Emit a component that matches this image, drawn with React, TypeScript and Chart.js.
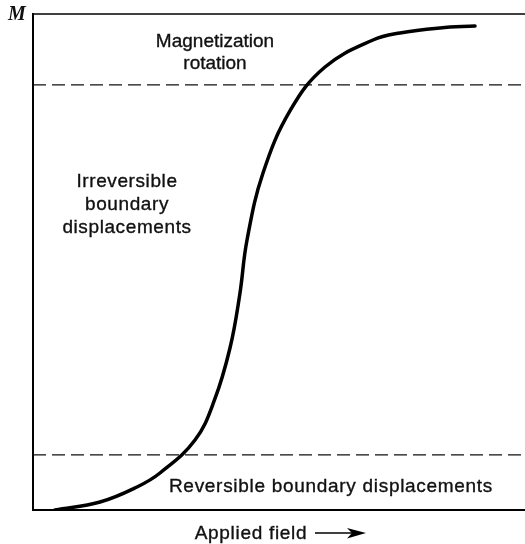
import React, { useEffect, useRef } from "react";
import { Chart, registerables } from "chart.js";

Chart.register(...registerables);

// Applied field (arbitrary units, 0..100) and magnetization M (0..100)
const appliedField = [4.47, 13.62, 21.14, 25.81, 32.93, 36.89, 40.04, 42.01, 43.5, 46.75, 52.34, 59.35, 69.11, 74.59, 82.72, 89.84];
const magnetization = [0, 1.61, 4.64, 7.46, 14.11, 22.18, 32.66, 43.35, 54.44, 67.94, 80.65, 89.31, 94.76, 96.17, 97.18, 97.58];
// Region boundaries (dashed lines), in M units
const regionBoundaries = [11.1, 85.7];
const fieldRange = [0, 100];
const mRange = [0, 100];

const topRegionLabel = ["Magnetization", "rotation"];
const middleRegionLabel = ["Irreversible", "boundary", "displacements"];
const bottomRegionLabel = ["Reversible boundary displacements"];
const xAxisLabel = "Applied field";
const yAxisLabel = "M";

const FONT = '"Liberation Sans", Arial, sans-serif';

const annotations = {
  id: "annotations",
  afterDraw(chart: any) {
    const { ctx, chartArea: a } = chart;
    ctx.save();
    ctx.strokeStyle = "#000";
    ctx.fillStyle = "#111";
    // frame: left, bottom (thick), top (thinner)
    ctx.lineWidth = 2;
    ctx.beginPath();
    ctx.moveTo(a.left, a.top - 1);
    ctx.lineTo(a.left, a.bottom + 1);
    ctx.stroke();
    ctx.beginPath();
    ctx.moveTo(a.left - 1, a.bottom);
    ctx.lineTo(a.right, a.bottom);
    ctx.stroke();
    ctx.lineWidth = 1.5;
    ctx.beginPath();
    ctx.moveTo(a.left, a.top);
    ctx.lineTo(a.right, a.top);
    ctx.stroke();

    // Y-axis label M
    ctx.font = 'italic bold 20px "Liberation Serif", "Times New Roman", serif';
    ctx.textAlign = "center";
    ctx.textBaseline = "alphabetic";
    ctx.fillText(yAxisLabel, 17, 20);

    ctx.font = "19px " + FONT;
    ctx.textAlign = "center";
    ctx.strokeStyle = "#111";
    ctx.lineWidth = 0.35;
    const put = (t: string, x: number, y: number) => {
      ctx.fillText(t, x, y);
      ctx.strokeText(t, x, y);
    };
    (ctx as any).letterSpacing = "0px";
    topRegionLabel.forEach((t, i) => put(t, 215, 47 + i * 22));
    (ctx as any).letterSpacing = "0.6px";
    middleRegionLabel.forEach((t, i) => put(t, 127, 187 + i * 23));
    (ctx as any).letterSpacing = "0.7px";
    bottomRegionLabel.forEach((t, i) => put(t, 331, 492 + i * 23));

    // x-axis label with arrow
    put(xAxisLabel, 251, 539);
    (ctx as any).letterSpacing = "0px";
    ctx.strokeStyle = "#000";
    ctx.lineWidth = 1.3;
    ctx.beginPath();
    ctx.moveTo(315, 533);
    ctx.lineTo(358, 533);
    ctx.stroke();
    ctx.beginPath();
    ctx.moveTo(347, 528);
    ctx.lineTo(366, 533);
    ctx.lineTo(347, 538.5);
    ctx.lineTo(352, 533);
    ctx.closePath();
    ctx.fillStyle = "#000";
    ctx.fill();
    ctx.restore();
  },
};

export default function App() {
  const ref = useRef<HTMLCanvasElement>(null);
  useEffect(() => {
    if (!ref.current) return;
    const curve = appliedField.map((x, i) => ({ x, y: magnetization[i] }));
    const dashed = regionBoundaries.map((level) => ({
      data: [
        { x: fieldRange[0], y: level },
        { x: fieldRange[1], y: level },
      ],
      borderColor: "#111",
      borderWidth: 1.3,
      borderDash: [13, 6],
      pointRadius: 0,
      fill: false,
    }));
    const chart = new Chart(ref.current, {
      type: "line",
      data: {
        datasets: [
          {
            data: curve,
            borderColor: "#000",
            borderWidth: 3.5,
            pointRadius: 0,
            tension: 0.4,
            borderCapStyle: "round",
            borderJoinStyle: "round",
            fill: false,
          } as any,
          ...dashed,
        ],
      },
      options: {
        responsive: false,
        animation: false,
        layout: { padding: { left: 33, top: 14, right: 0, bottom: 34 } },
        plugins: { legend: { display: false }, tooltip: { enabled: false } },
        scales: {
          x: { type: "linear", min: fieldRange[0], max: fieldRange[1], display: false },
          y: { type: "linear", min: mRange[0], max: mRange[1], display: false },
        },
      },
      plugins: [annotations],
    });
    return () => chart.destroy();
  }, []);
  return (
    <div style={{ position: "fixed", left: 0, top: 0, width: 525, height: 544, background: "#fff" }}>
      <canvas ref={ref} width={525} height={544} />
    </div>
  );
}
